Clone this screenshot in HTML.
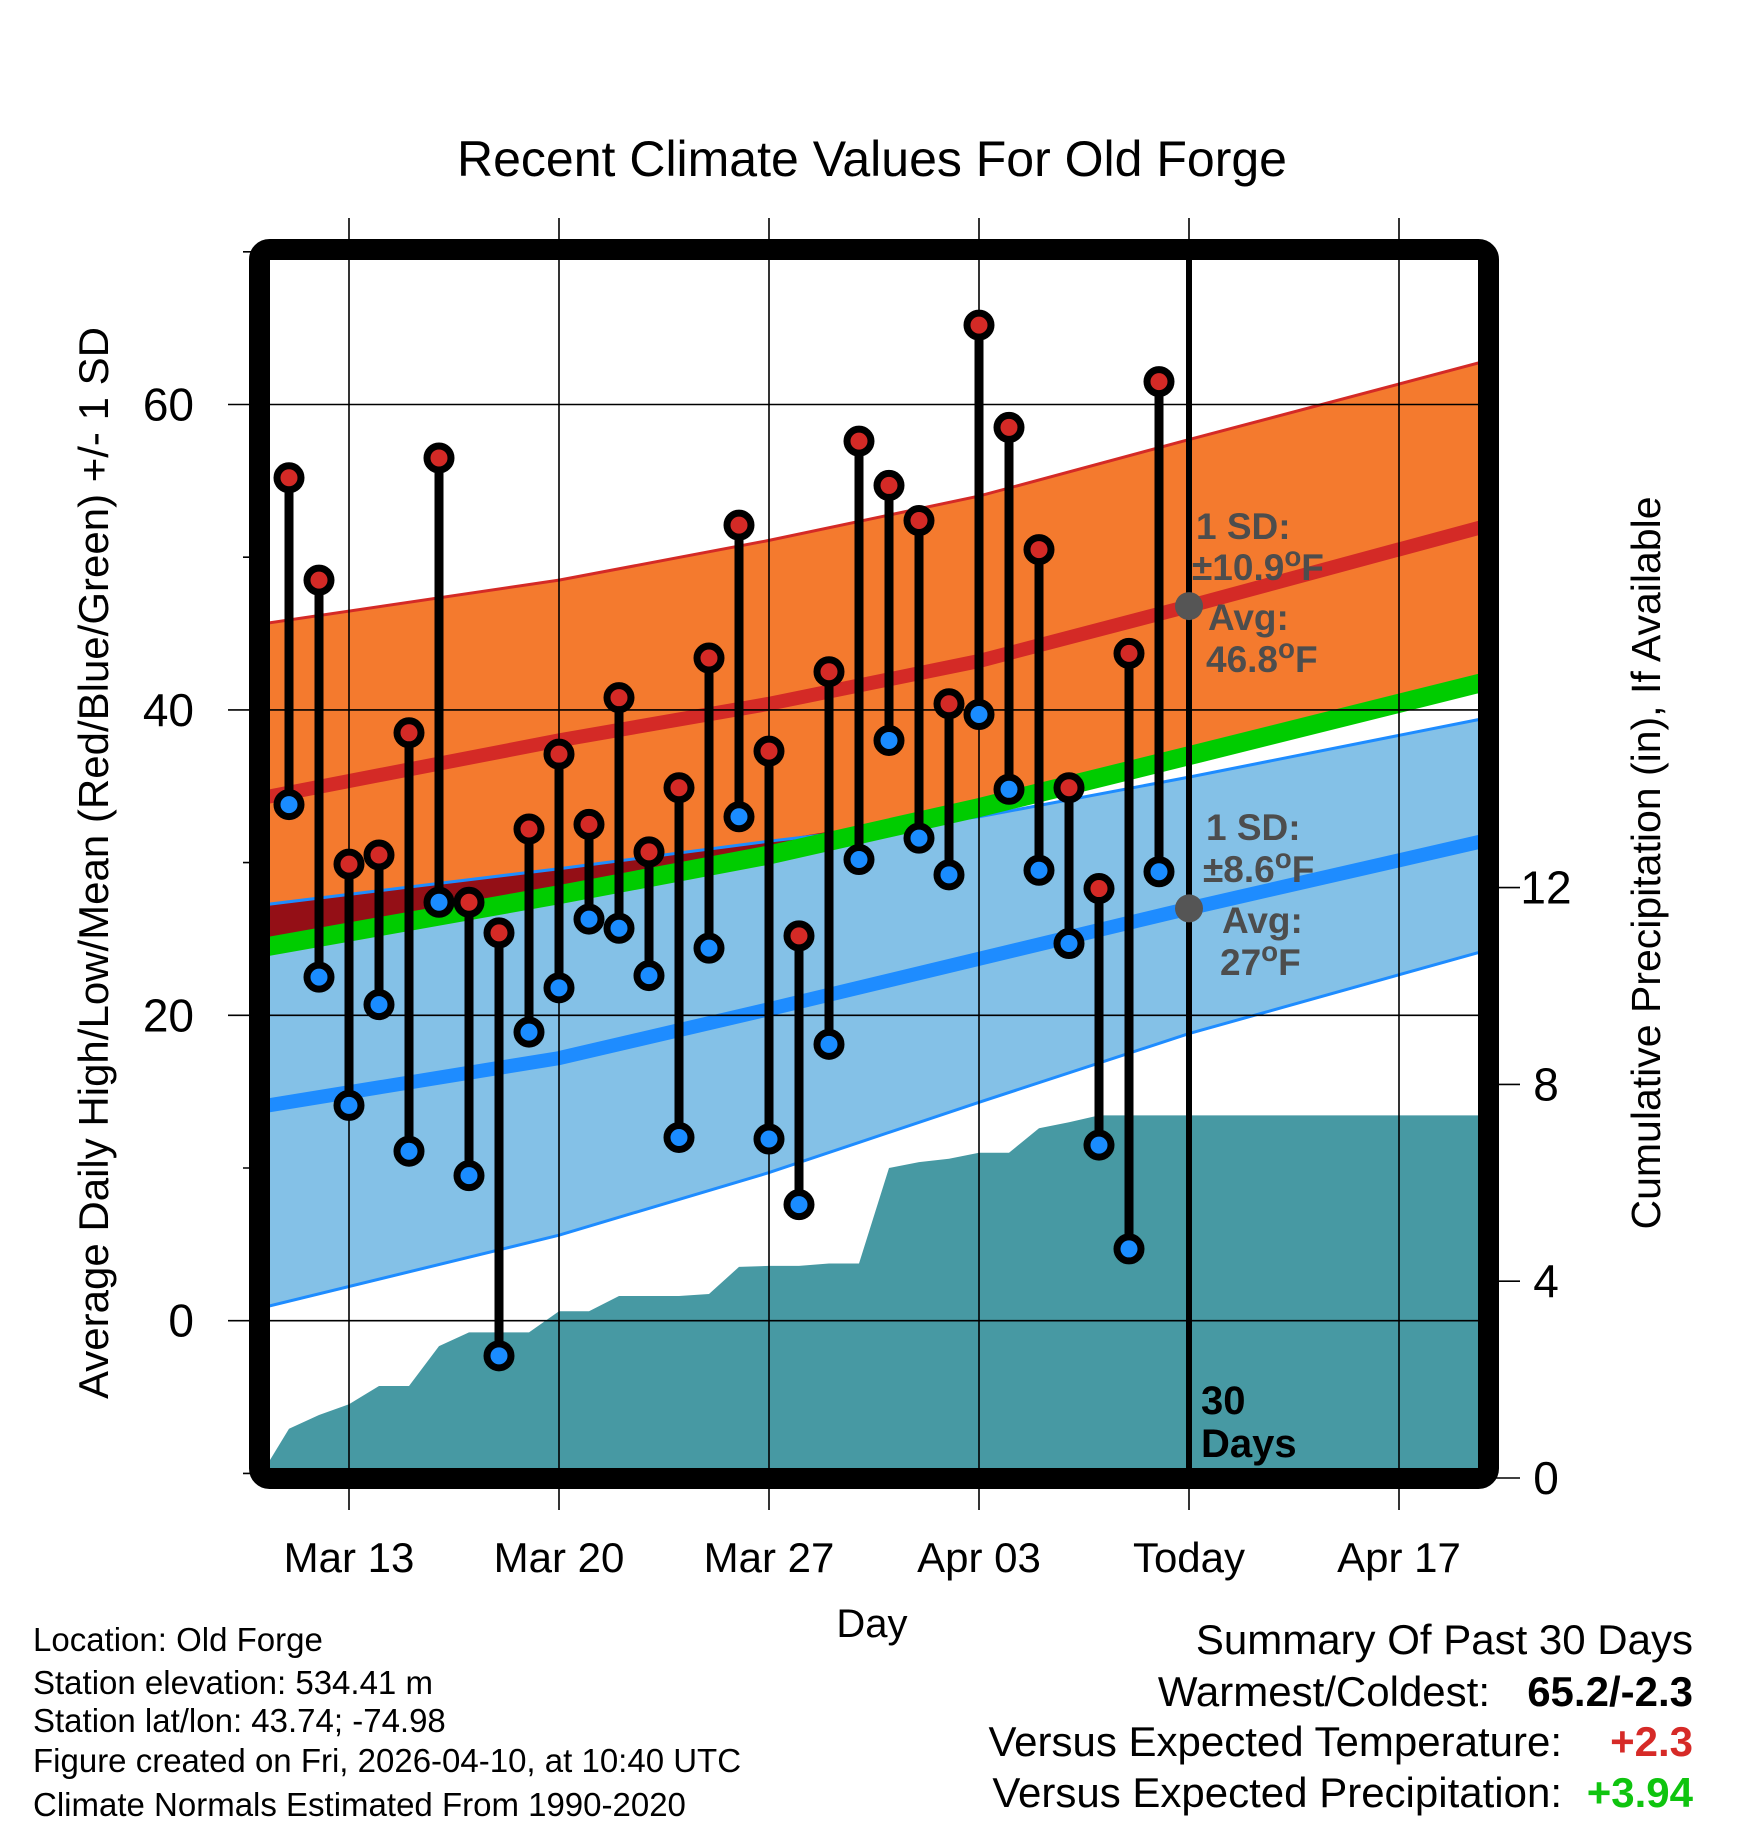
<!DOCTYPE html>
<html><head><meta charset="utf-8"><style>
html,body{margin:0;padding:0;background:#fff;}
svg{display:block;font-family:"Liberation Sans",Arial,sans-serif;}
</style></head><body>
<svg id="chart" width="1748" height="1828" viewBox="0 0 1748 1828" xmlns="http://www.w3.org/2000/svg">
<defs><clipPath id="plotclip"><rect x="270" y="260" width="1208" height="1208"/></clipPath></defs>
<g id="bands" clip-path="url(#plotclip)"></g>
<g id="grid"></g>
<g id="marks" clip-path="url(#plotclip)"></g>
<rect x="259.5" y="249.5" width="1229" height="1229" rx="10" fill="none" stroke="#000" stroke-width="21"/>
<g id="axes"></g>
<text x="872" y="176" font-size="50" text-anchor="middle">Recent Climate Values For Old Forge</text>
<text transform="translate(108,863) rotate(-90)" font-size="42" text-anchor="middle">Average Daily High/Low/Mean (Red/Blue/Green) +/- 1 SD</text>
<text transform="translate(1660,863) rotate(-90)" font-size="41" text-anchor="middle">Cumulative Precipitation (in), If Available</text>
<text x="872" y="1637" font-size="40" text-anchor="middle">Day</text>
<g font-size="33">
<text x="33" y="1651">Location: Old Forge</text>
<text x="33" y="1694">Station elevation: 534.41 m</text>
<text x="33" y="1732">Station lat/lon: 43.74; -74.98</text>
<text x="33" y="1772">Figure created on Fri, 2026-04-10, at 10:40 UTC</text>
<text x="33" y="1816">Climate Normals Estimated From 1990-2020</text>
</g>
<g font-size="42" text-anchor="end">
<text x="1693" y="1654">Summary Of Past 30 Days</text>
<text x="1490" y="1706">Warmest/Coldest:</text>
<text x="1693" y="1706" font-weight="bold">65.2/-2.3</text>
<text x="1562" y="1756">Versus Expected Temperature:</text>
<text x="1693" y="1756" font-weight="bold" fill="#d62a27">+2.3</text>
<text x="1562" y="1807">Versus Expected Precipitation:</text>
<text x="1693" y="1807" font-weight="bold" fill="#0fc40f">+3.94</text>
</g>
</svg>
<script>
// days measured from Mar 13 (0)
const normDays = [-3, 7, 14, 21, 28, 38];
const highUpper = [45.6, 48.5, 51.1, 54.0, 57.7, 62.9];
const highMean  = [34.2, 38.0, 40.4, 43.2, 46.8, 52.1];
const meanLine  = [24.4, 27.9, 30.5, 33.6, 37.0, 41.9];
const lowUpper  = [27.2, 29.6, 31.4, 33.0, 35.6, 39.5];
const lowMean   = [14.0, 17.2, 20.4, 23.7, 27.0, 31.5];
const lowLower  = [0.8, 5.6, 9.7, 14.3, 18.8, 24.3];
const obsDays = [-2,-1,0,1,2,3,4,5,6,7,8,9,10,11,12,13,14,15,16,17,18,19,20,21,22,23,24,25,26,27];
const highs = [55.2,48.5,29.9,30.5,38.5,56.5,27.4,25.4,32.2,37.1,32.5,40.8,30.7,34.9,43.4,52.1,37.3,25.2,42.5,57.6,54.7,52.4,40.4,65.2,58.5,50.5,34.9,28.3,43.7,61.5];
const lows  = [33.8,22.5,14.1,20.7,11.1,27.4,9.5,-2.3,18.9,21.8,26.3,25.7,22.6,12.0,24.4,33.0,11.9,7.6,18.1,30.2,38.0,31.6,29.2,39.7,34.8,29.5,24.7,11.5,4.7,29.4];
const precipDays = [-3,-2,-1,0,1,2,3,4,5,6,7,8,9,10,11,12,13,14,15,16,17,18,19,20,21,22,23,24,25,26,27,39];
const precip = [0,1.0,1.28,1.5,1.87,1.87,2.68,2.96,2.96,2.96,3.39,3.39,3.7,3.7,3.7,3.74,4.29,4.31,4.31,4.36,4.36,6.3,6.42,6.49,6.61,6.61,7.11,7.23,7.37,7.37,7.37,7.37];
const xTickDays = [0,7,14,21,28,35];
const xTickLabels = ["Mar 13","Mar 20","Mar 27","Apr 03","Today","Apr 17"];
const yTicks = [0,20,40,60];
const yMinor = [-10,10,30,50,70];
const pTicks = [0,4,8,12];
const todayDay = 28;
const todayHighAvg = 46.8, todayLowAvg = 27;

const NS="http://www.w3.org/2000/svg";
const X = d => 349 + 30*d;
const Y = t => 1320.7 - 15.27*t;
const P = p => 1478 - 49.2*p;
function mk(tag, attrs, parent){const e=document.createElementNS(NS,tag);for(const k in attrs)e.setAttribute(k,attrs[k]);parent.appendChild(e);return e;}
function pts(days, vals, f){return days.map((d,i)=>X(d).toFixed(1)+","+f(vals[i]).toFixed(1));}
const bands=document.getElementById('bands'), grid=document.getElementById('grid'), marks=document.getElementById('marks'), axes=document.getElementById('axes');

let pp = pts(precipDays, precip, P); pp.push(X(39)+","+P(0), X(-3)+","+P(0));
let e = mk('polygon',{points:pp.join(' '),fill:'#4799a3'},bands);


let bp = pts(normDays,lowUpper,Y).concat(pts(normDays,lowLower,Y).reverse());
e = mk('polygon',{points:bp.join(' '),fill:'#84c1e7'},bands);


let op = pts(normDays,highUpper,Y).concat(pts(normDays,meanLine,Y).reverse());
e = mk('polygon',{points:op.join(' '),fill:'#f47a2e'},bands);


const ovTop = lowUpper.map((v,i)=>Math.max(v,meanLine[i]));
let ov = pts(normDays,ovTop,Y).concat(pts(normDays,meanLine,Y).reverse());
e = mk('polygon',{points:ov.join(' '),fill:'#940f16'},bands);


e = mk('polyline',{points:pts(normDays,highUpper,Y).join(' '),fill:'none',stroke:'#d42a26','stroke-width':3},bands);


e = mk('polyline',{points:pts(normDays,lowUpper,Y).join(' '),fill:'none',stroke:'#1e8cff','stroke-width':3},bands);


e = mk('polyline',{points:pts(normDays,lowLower,Y).join(' '),fill:'none',stroke:'#1e8cff','stroke-width':3},bands);


e = mk('polyline',{points:pts(normDays,meanLine,Y).join(' '),fill:'none',stroke:'#00cc00','stroke-width':19},bands);


e = mk('polyline',{points:pts(normDays,highMean,Y).join(' '),fill:'none',stroke:'#d42a26','stroke-width':14},bands);


e = mk('polyline',{points:pts(normDays,lowMean,Y).join(' '),fill:'none',stroke:'#1e8cff','stroke-width':14},bands);



xTickDays.forEach(d=>{
  const g=mk('line',{x1:X(d),x2:X(d),y1:218,y2:1510,stroke:'#000','stroke-width':1.6},grid);
  
  
});
yTicks.forEach(t=>{
  const g=mk('line',{x1:228,x2:1488,y1:Y(t),y2:Y(t),stroke:'#000','stroke-width':1.6},grid);
  
  
});
yMinor.forEach(t=>{
  const g=mk('line',{x1:243,x2:260,y1:Y(t),y2:Y(t),stroke:'#000','stroke-width':1.6},grid);
  
  
});
pTicks.forEach(p=>{
  const g=mk('line',{x1:1488,x2:1520,y1:P(p),y2:P(p),stroke:'#000','stroke-width':1.6},grid);
  
  
});

e = mk('line',{x1:X(todayDay),x2:X(todayDay),y1:258,y2:1470,stroke:'#000','stroke-width':6},marks);



obsDays.forEach((d,i)=>{
  const s=mk('line',{x1:X(d),x2:X(d),y1:Y(highs[i]),y2:Y(lows[i]),stroke:'#000','stroke-width':9},marks);
  
  
});
obsDays.forEach((d,i)=>{
  const h=mk('circle',{cx:X(d),cy:Y(highs[i]),r:12,fill:'#d42a26',stroke:'#000','stroke-width':7},marks);
  
  
  const l=mk('circle',{cx:X(d),cy:Y(lows[i]),r:12,fill:'#1a8cff',stroke:'#000','stroke-width':7},marks);
  
  
});
e = mk('circle',{cx:X(todayDay),cy:Y(todayHighAvg),r:14,fill:'#555'},marks);


e = mk('circle',{cx:X(todayDay),cy:Y(todayLowAvg),r:14,fill:'#555'},marks);



function ann(x,y,txt,name,size,color,deg){
  const t=mk('text',{x:x,y:y,'font-size':size,'font-weight':'bold',fill:color},marks);
  if(deg){t.appendChild(document.createTextNode(txt));
    const sp=mk('tspan',{dy:-14,'font-size':size*0.75},t); sp.textContent='o';
    const sp2=mk('tspan',{dy:14},t); sp2.textContent='F';}
  else t.textContent=txt;
  
  
}
ann(1196,539,'1 SD:','high-sd-label',37,'#4d4d4d',false);
ann(1192,580,'\u00b110.9','high-sd-value',37,'#4d4d4d',true);
ann(1208,630,'Avg:','high-avg-label',37,'#4d4d4d',false);
ann(1206,672,'46.8','high-avg-value',37,'#4d4d4d',true);
ann(1206,840,'1 SD:','low-sd-label',37,'#4d4d4d',false);
ann(1203,882,'\u00b18.6','low-sd-value',37,'#4d4d4d',true);
ann(1222,933,'Avg:','low-avg-label',37,'#4d4d4d',false);
ann(1220,975,'27','low-avg-value',37,'#4d4d4d',true);
ann(1201,1414,'30','days-count-label',40,'#000',false);
ann(1201,1457,'Days','days-word-label',40,'#000',false);

xTickDays.forEach((d,i)=>{
  const t=mk('text',{x:X(d),y:1572,'font-size':42,'text-anchor':'middle'},axes);
  t.textContent=xTickLabels[i];
  
  
});
yTicks.forEach(t0=>{
  const t=mk('text',{x:194,y:Y(t0)+16,'font-size':46,'text-anchor':'end'},axes);
  t.textContent=t0;
  
  
});
pTicks.forEach(p=>{
  const t=mk('text',{x:1546,y:P(p)+16,'font-size':46,'text-anchor':'middle'},axes);
  t.textContent=p;
  
  
});
</script>
</body></html>
